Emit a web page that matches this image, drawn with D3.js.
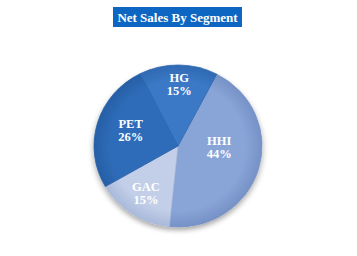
<!DOCTYPE html>
<html><head><meta charset="utf-8">
<script src="https://cdn.jsdelivr.net/npm/d3@7"></script>
<style>html,body{margin:0;padding:0;background:#fff;}svg{display:block;}</style>
</head><body>
<svg id="chart" width="357" height="256"></svg>
<script>
const categories = ["HHI", "GAC", "PET", "HG"];
const values = [44, 15, 26, 15];
const pctLabels = ["44%", "15%", "26%", "15%"];
const colors = ["#89a5d7", "#c3cfe8", "#2f6cb9", "#3b79c7"];
const rimColors = ["#7591c6", "#a9b9da", "#275fa6", "#2f69b2"];
const title = "Net Sales By Segment";

// label placement: [radius factor, angle in degrees clockwise from top]
const labelPos = {HHI: [0.49, 91], GAC: [0.69, 213.6], PET: [0.60, 290], HG: [0.77, 1]};

const svg = d3.select("#chart");
const cx = 178, cy = 146, r = 84, sy = 81 / 84;

const defs = svg.append("defs");
categories.forEach((c, i) => {
  const g = defs.append("radialGradient").attr("id", "g" + i)
    .attr("gradientUnits", "userSpaceOnUse").attr("cx", 0).attr("cy", 0).attr("r", r);
  g.append("stop").attr("offset", "0%").attr("stop-color", colors[i]);
  g.append("stop").attr("offset", "80%").attr("stop-color", colors[i]);
  g.append("stop").attr("offset", "100%").attr("stop-color", rimColors[i]);
});
const f = defs.append("filter").attr("id", "sh").attr("x", "-20%").attr("y", "-20%").attr("width", "140%").attr("height", "150%");
f.append("feGaussianBlur").attr("in", "SourceAlpha").attr("stdDeviation", 3);
f.append("feOffset").attr("dx", 0).attr("dy", 3).attr("result", "b");
f.append("feComponentTransfer").append("feFuncA").attr("type", "linear").attr("slope", 0.35);
const fm = f.append("feMerge");
fm.append("feMergeNode");
fm.append("feMergeNode").attr("in", "SourceGraphic");

const startA = 27.5 * Math.PI / 180;
const pie = d3.pie().sort(null).value(d => d.v)
  .startAngle(startA).endAngle(startA + 2 * Math.PI);
const data = categories.map((c, i) => ({c, v: values[i], p: pctLabels[i], i}));
const arcs = pie(data);
const arc = d3.arc().innerRadius(0).outerRadius(r);

const g = svg.append("g").attr("transform", `translate(${cx},${cy}) scale(1,${sy})`);
const gp = g.append("g").attr("filter", "url(#sh)");
gp.selectAll("path").data(arcs).join("path")
  .attr("d", arc)
  .attr("fill", d => `url(#g${d.data.i})`)
  .attr("stroke", d => rimColors[d.data.i])
  .attr("stroke-width", 0.8);

const lg = svg.append("g").attr("transform", `translate(${cx},${cy})`);
arcs.forEach(d => {
  const [rf, deg] = labelPos[d.data.c];
  const lr = r * rf;
  const a = deg * Math.PI / 180;
  const x = Math.sin(a) * lr, y = -Math.cos(a) * lr * sy;
  const t = lg.append("text").attr("x", x).attr("y", y)
    .attr("text-anchor", "middle")
    .attr("font-family", "'Liberation Serif','Times New Roman',serif")
    .attr("font-weight", "bold").attr("font-size", 12.5).attr("fill", "#fff");
  t.append("tspan").attr("x", x).attr("dy", "-0.15em").text(d.data.c);
  t.append("tspan").attr("x", x).attr("dy", "1.05em").text(d.data.p);
});

// title
const tg = svg.append("g");
tg.append("rect").attr("x", 113).attr("y", 7).attr("width", 129).attr("height", 20).attr("fill", "#0c66c2");
tg.append("text").attr("x", 177.5).attr("y", 21.5)
  .attr("text-anchor", "middle")
  .attr("font-family", "'Liberation Serif','Times New Roman',serif")
  .attr("font-weight", "bold").attr("font-size", 13).attr("fill", "#fff")
  .text(title);
</script>
</body></html>
